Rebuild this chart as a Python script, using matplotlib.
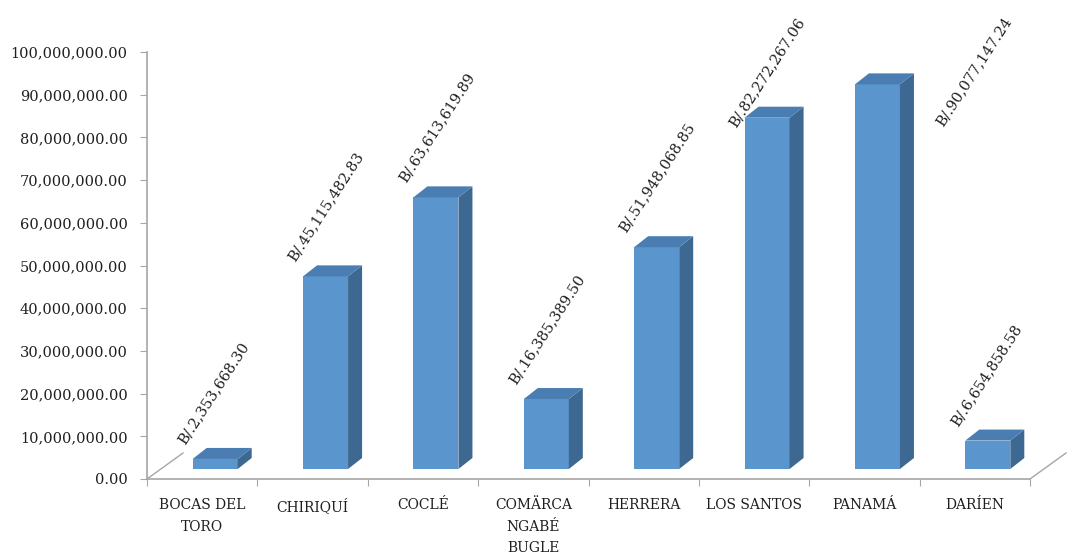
import numpy as np
import matplotlib
matplotlib.use("Agg")
from matplotlib import pyplot as plt
from matplotlib.patches import Polygon

# datos del grafico
provincias = ["BOCAS DEL\nTORO", "CHIRIQUÍ", "COCLÉ", "COMÄRCA\nNGABÉ\nBUGLE",
              "HERRERA", "LOS SANTOS", "PANAMÁ", "DARÍEN"]
montos = [2353668.30, 45115482.83, 63613619.89, 16385389.50,
          51948068.85, 82272267.06, 90077147.24, 6654858.58]
etiquetas = ["B/.2,353,668.30", "B/.45,115,482.83", "B/.63,613,619.89", "B/.16,385,389.50",
             "B/.51,948,068.85", "B/.82,272,267.06", "B/.90,077,147.24", "B/.6,654,858.58"]
y_ticks = np.arange(0, 100000001, 10000000)

# colores
frente = "#5b95cd"
lado = "#3d6891"
arriba = "#4a7db2"
gris = "#a6a6a6"
texto = "#1f1f1f"

W, H = 1071, 560
fig = plt.figure(figsize=(W / 100, H / 100), dpi=100)
ax = fig.add_axes([147 / W, 81 / H, 883 / W, 427 / H])
ax.set_xlim(0, len(montos))
ax.set_ylim(0, 100000000)

# pixeles -> unidades de datos
sx = 883 / len(montos)
sy = 427 / 100000000

ancho = 45 / sx
desp = 13 / sx
base = 10 / sy
dx, dy = 14 / sx, 11 / sy

x = np.arange(len(montos)) + 0.5 + desp
ax.bar(x, montos, width=ancho, bottom=base, color=frente, edgecolor="none", zorder=3)

for xi, v in zip(x, montos):
    l, r = xi - ancho / 2, xi + ancho / 2
    top = v + base
    ax.add_patch(Polygon([(r, base), (r + dx, base + dy), (r + dx, top + dy), (r, top)],
                         closed=True, facecolor=lado, edgecolor="none", zorder=3, clip_on=False))
    ax.add_patch(Polygon([(l, top), (l + dx, top + dy), (r + dx, top + dy), (r, top)],
                         closed=True, facecolor=arriba, edgecolor="none", zorder=3, clip_on=False))

# etiquetas de valor (las de Los Santos y Panama estan movidas)
offsets = [(-8, 14), (-8, 14), (-8, 14), (-8, 14), (-8, 14), (-9, -10), (88, -43), (-8, 14)]
for xi, v, lab, off in zip(x, montos, etiquetas, offsets):
    ax.annotate(lab, xy=(xi - ancho / 2, v + base), xytext=off, textcoords="offset pixels",
                rotation=57, rotation_mode="anchor", ha="left", va="baseline",
                fontsize=10.5, family="DejaVu Serif", color=texto, annotation_clip=False)

# piso en perspectiva
fx, fy = 36 / sx, 26 / sy
ax.plot([0, fx], [0, fy], color=gris, lw=1, clip_on=False)
ax.plot([len(montos), len(montos) + fx], [0, fy], color=gris, lw=1, clip_on=False)

for s in ["top", "right"]:
    ax.spines[s].set_visible(False)
for s in ["left", "bottom"]:
    ax.spines[s].set_color(gris)
    ax.spines[s].set_linewidth(1.2)

ax.set_yticks(y_ticks)
ax.set_yticklabels([f"{t:,.2f}" for t in y_ticks], family="DejaVu Serif", fontsize=10.5, color=texto)
ax.tick_params(axis="y", direction="out", length=5, color=gris, pad=9)

ax.set_xticks(np.arange(len(montos) + 1))
ax.set_xticklabels([])
ax.tick_params(axis="x", which="major", direction="out", length=5, color=gris)
ax.set_xticks(np.arange(len(montos)) + 0.5, minor=True)
ax.set_xticklabels(provincias, minor=True, family="DejaVu Serif", fontsize=10, color=texto)
ax.tick_params(axis="x", which="minor", length=0, pad=14)
for t in ax.get_xticklabels(minor=True):
    t.set_linespacing(1.65)

fig.savefig("out.png", dpi=100)
